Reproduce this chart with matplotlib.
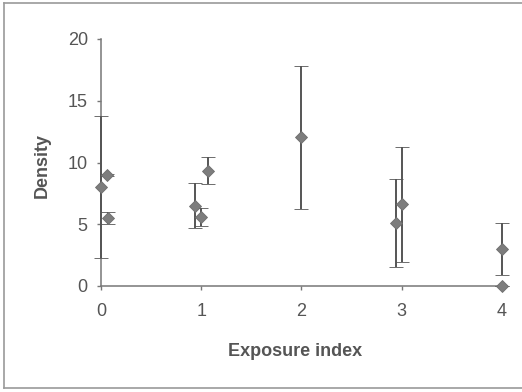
import matplotlib
matplotlib.use("Agg")
import matplotlib.pyplot as plt
from matplotlib.lines import Line2D

# Exposure index vs. density, each point with its error bar
exposure = [0.0, 0.057, 0.065, 0.94, 1.0, 1.065, 2.0, 2.94, 3.0, 4.0, 4.0]
density = [8.0, 9.0, 5.5, 6.5, 5.6, 9.35, 12.05, 5.07, 6.6, 3.0, 0.0]
density_err = [5.75, 0.1, 0.48, 1.8, 0.72, 1.1, 5.8, 3.57, 4.63, 2.12, 0.0]

x_ticks = [0, 1, 2, 3, 4]
y_ticks = [0, 5, 10, 15, 20]

plt.rcParams['font.family'] = ['Liberation Sans', 'DejaVu Sans']

W, H = 522, 392
fig = plt.figure(figsize=(W / 100, H / 100), dpi=100)
fig.patch.set_facecolor('white')

# plot area in pixel terms
left, right, top, bottom = 101, 507, 39, 286
ax = fig.add_axes([left / W, 1 - bottom / H, (right - left) / W, (bottom - top) / H])

ax.errorbar(exposure, density, yerr=density_err, fmt='D', color='#7d7d7d',
            markersize=6.5, markeredgecolor='#6e6e6e', markeredgewidth=0.6,
            ecolor='#555555', elinewidth=1.4, capsize=5, capthick=1.4,
            clip_on=False, zorder=3)

ax.set_xlim(0, 4.05)
ax.set_ylim(0, 20)
ax.set_xticks(x_ticks)
ax.set_yticks(y_ticks)

for side in ('top', 'right'):
    ax.spines[side].set_visible(False)
for side in ('left', 'bottom'):
    ax.spines[side].set_color('#777777')
    ax.spines[side].set_linewidth(1.1)

ax.tick_params(axis='both', colors='#777777', labelcolor='#555555',
               labelsize=13, length=3, width=1.0, direction='out')
ax.tick_params(axis='x', pad=9)
ax.tick_params(axis='y', pad=6.5)

ax.set_xlabel('Exposure index', fontsize=13, fontweight='bold', color='#555555')
ax.xaxis.set_label_coords(0.477, -0.266)
ax.xaxis.label.set_va('center')
ax.set_ylabel('Density', fontsize=13, fontweight='bold', color='#555555')
ax.yaxis.set_label_coords(-0.145, 0.486)
ax.yaxis.label.set_va('center')

# outer chart border
frame_color = '#9a9a9a'
for xs, ys in [((4, W), (3, 3)), ((4, 4), (3, 388)), ((4, W), (388, 388))]:
    fig.add_artist(Line2D([x / W for x in xs], [1 - y / H for y in ys],
                          transform=fig.transFigure, color=frame_color, lw=1.2))

fig.savefig('out.png', dpi=100)
